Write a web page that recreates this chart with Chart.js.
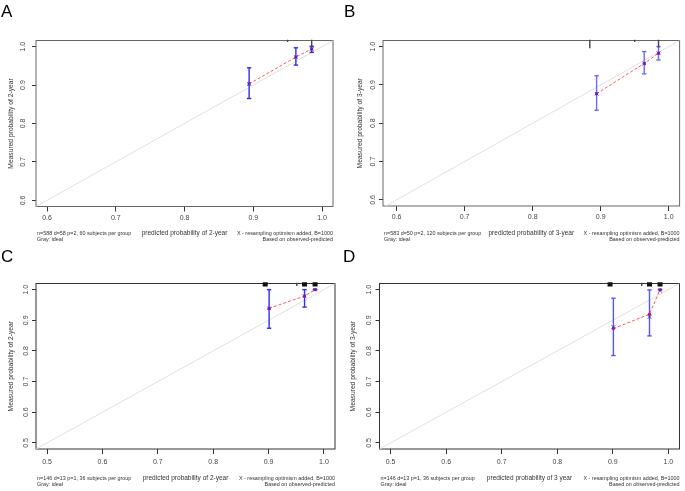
<!DOCTYPE html>
<html>
<head>
<meta charset="utf-8">
<script src="https://cdn.jsdelivr.net/npm/chart.js@4.4.0/dist/chart.umd.min.js"></script>
<style>
body { margin: 0; background: #fff; width: 685px; height: 491px; position: relative; overflow: hidden; font-family: "Liberation Sans", Arial, sans-serif; }
.wrap { position: absolute; }
.letter { position: absolute; font-size: 17px; line-height: 17px; color: #000; }
</style>
</head>
<body>
<div class="wrap" style="left:0;top:0;width:342px;height:245px"><canvas id="chartA"></canvas></div>
<div class="wrap" style="left:342px;top:0;width:343px;height:245px"><canvas id="chartB"></canvas></div>
<div class="wrap" style="left:0;top:245px;width:342px;height:246px"><canvas id="chartC"></canvas></div>
<div class="wrap" style="left:342px;top:245px;width:343px;height:246px"><canvas id="chartD"></canvas></div>
<div class="letter" style="left:1px;top:3px">A</div>
<div class="letter" style="left:344px;top:3px">B</div>
<div class="letter" style="left:1px;top:248px">C</div>
<div class="letter" style="left:343px;top:248px">D</div>
<script>
const FONT = '"Liberation Sans", Arial, sans-serif';

// tick labels
const ticksAB = [0.6, 0.7, 0.8, 0.9, 1.0];
const ticksCD = [0.5, 0.6, 0.7, 0.8, 0.9, 1.0];
const idealEnds = [0.4, 1.1];

// A - 2-year
const predA = [0.894, 0.962, 0.985];
const obsA = [0.903, 0.973, 0.994];
const corrA = [0.903, 0.973, 0.994];
const lowA = [0.865, 0.952, 0.985];
const upA = [0.945, 0.997, 1.001];
const rugXA = [0.950, 0.985];
const rugLenA = [0.004, 0.016];

// B - 3-year
const predB = [0.894, 0.964, 0.985];
const obsB = [0.877, 0.956, 0.983];
const corrB = [0.877, 0.956, 0.983];
const lowB = [0.834, 0.929, 0.965];
const upB = [0.924, 0.987, 1.000];
const rugXB = [0.884, 0.950, 0.985];
const rugLenB = [0.020, 0.004, 0.018];

// C - 2-year
const predC = [0.901, 0.965, 0.984];
const obsC = [0.939, 0.979, 1.000];
const corrC = [0.939, 0.979, 1.000];
const lowC = [0.874, 0.943, 1.000];
const upC = [1.000, 1.000, 1.000];
const rugXC = [0.951];
const rugLenC = [0.008];
const rugSqC = [0.894, 0.965, 0.984];

// D - 3-year
const predD = [0.901, 0.966, 0.985];
const obsD = [0.873, 0.920, 1.000];
const corrD = [0.878, 0.911, 0.997];
const lowD = [0.785, 0.849, 1.000];
const upD = [0.972, 0.999, 1.000];
const rugXD = [0.952];
const rugLenD = [0.008];
const rugSqD = [0.895, 0.966, 0.985];

const noteRight = ['X - resampling optimism added, B=1000', 'Based on observed-predicted'];

function segs(xs, y0, y1) {
    const out = [];
    xs.forEach((x, i) => {
        out.push({ x: x, y: y0[i] }, { x: x, y: y1[i] }, { x: x, y: null });
    });
    return out;
}

function pts(xs, ys) {
    return xs.map((x, i) => ({ x: x, y: ys[i] }));
}

const framePlugin = {
    id: 'frame',
    beforeDatasetsDraw(chart, args, opts) {
        const { ctx, chartArea: a } = chart;
        ctx.save();
        ctx.strokeStyle = opts.color || '#444';
        ctx.lineWidth = 1;
        ctx.strokeRect(a.left, a.top, a.right - a.left, a.bottom - a.top);
        ctx.restore();
    },
    afterDraw(chart, args, opts) {
        const { ctx, chartArea: a } = chart;
        ctx.save();
        ctx.fillStyle = '#333';
        ctx.font = '5.4px ' + FONT;
        ctx.textBaseline = 'middle';
        ctx.textAlign = 'left';
        (opts.left || []).forEach((t, i) => ctx.fillText(t, a.left + 1, 234 + i * 6));
        ctx.textAlign = 'right';
        (opts.right || []).forEach((t, i) => ctx.fillText(t, a.right, 234 + i * 6));
        ctx.restore();
    }
};

const panels = [
    {
        id: 'chartA', xRange: [0.584, 1.016], yRange: [0.584, 1.016], ticks: ticksAB,
        pred: predA, obs: obsA, corr: corrA, low: lowA, up: upA,
        rugX: rugXA, rugLen: rugLenA, sq: [],
        xTitle: 'predicted probability of 2-year', yTitle: 'Measured probability of 2-year',
        noteLeft: ['n=588 d=58 p=2, 60 subjects per group', 'Gray: ideal'],
        area: { left: 36, right: 9, top: 40.5, bottom: 38.5 }, yLabX: 23, yTitX: 10.7,
        xLabPad: 2, xTitOff: 12, barColor: '#2f2fe8', frameColor: '#666'
    },
    {
        id: 'chartB', xRange: [0.58, 1.016], yRange: [0.584, 1.016], ticks: ticksAB,
        pred: predB, obs: obsB, corr: corrB, low: lowB, up: upB,
        rugX: rugXB, rugLen: rugLenB, sq: [],
        xTitle: 'predicted probability of 3-year', yTitle: 'Measured probability of 3-year',
        noteLeft: ['n=583 d=50 p=2, 120 subjects per group', 'Gray: ideal'],
        area: { left: 41, right: 2, top: 40.5, bottom: 39 }, yLabX: 31.5, yTitX: 18,
        xLabPad: 2, xTitOff: 12, barColor: '#6b6bff', frameColor: '#666'
    },
    {
        id: 'chartC', xRange: [0.48, 1.02], yRange: [0.48, 1.02], ticks: ticksCD,
        pred: predC, obs: obsC, corr: corrC, low: lowC, up: upC,
        rugX: rugXC, rugLen: rugLenC, sq: rugSqC,
        xTitle: 'predicted probability of 2-year', yTitle: 'Measured probability of 2-year',
        noteLeft: ['n=146 d=13 p=1, 36 subjects per group', 'Gray: ideal'],
        area: { left: 36, right: 7, top: 38.5, bottom: 42 }, yLabX: 26.5, yTitX: 11.5,
        xLabPad: 4, xTitOff: 13, barColor: '#3030ee', frameColor: '#333'
    },
    {
        id: 'chartD', xRange: [0.48, 1.02], yRange: [0.48, 1.02], ticks: ticksCD,
        pred: predD, obs: obsD, corr: corrD, low: lowD, up: upD,
        rugX: rugXD, rugLen: rugLenD, sq: rugSqD,
        xTitle: 'predicted probability of 3 year', yTitle: 'Measured probability of 3-year',
        noteLeft: ['n=146 d=13 p=1, 36 subjects per group', 'Gray: ideal'],
        area: { left: 37.5, right: 5.5, top: 38.5, bottom: 42 }, yLabX: 27.5, yTitX: 11.5,
        xLabPad: 4, xTitOff: 13, barColor: '#5555ff', frameColor: '#333'
    }
];

function drawPanel(p) {
    const top = p.yRange[1];
    const span = p.yRange[1] - p.yRange[0];
    const datasets = [
        {
            data: pts(idealEnds, idealEnds), showLine: true,
            borderColor: '#e0e0e0', borderWidth: 1, pointRadius: 0, order: 5
        },
        {
            data: segs(p.pred, p.low, p.up), showLine: true, spanGaps: false,
            borderColor: p.barColor, borderWidth: 1.4,
            pointStyle: 'line', pointRadius: 2.2, pointBorderWidth: 1.4,
            pointBorderColor: p.barColor, clip: false, order: 3
        },
        {
            data: pts(p.pred, p.obs), showLine: true,
            borderColor: '#ff5a5a', borderWidth: 1, borderDash: [3, 2],
            pointRadius: 1.6, pointBackgroundColor: '#d8103c', pointBorderWidth: 0, order: 2
        },
        {
            data: pts(p.pred, p.corr), showLine: false,
            pointStyle: 'crossRot', pointRadius: 2.4, pointBorderColor: '#2a2aff',
            pointBorderWidth: 1, order: 1
        },
        {
            data: segs(p.rugX, p.rugX.map(() => top + span * 0.004), p.rugLen.map(l => top - l)),
            showLine: true, spanGaps: false, borderColor: '#444', borderWidth: 1.4,
            pointRadius: 0, clip: false, order: 0
        },
        {
            data: segs(p.sq, p.sq.map(() => top + span * 0.007), p.sq.map(() => top - span * 0.018)),
            showLine: true, spanGaps: false, borderColor: '#111', borderWidth: 5,
            pointRadius: 0, clip: false, order: 0
        }
    ];

    new Chart(document.getElementById(p.id), {
        type: 'scatter',
        data: { datasets: datasets },
        options: {
            responsive: true,
            maintainAspectRatio: false,
            animation: false,
            events: [],
            layout: { padding: { left: 0, top: p.area.top, right: p.area.right, bottom: 0 } },
            plugins: {
                legend: { display: false },
                tooltip: { enabled: false },
                frame: { color: p.frameColor, left: p.noteLeft, right: noteRight }
            },
            scales: {
                x: {
                    type: 'linear', min: p.xRange[0], max: p.xRange[1],
                    afterBuildTicks: s => { s.ticks = p.ticks.map(v => ({ value: v })); },
                    afterFit: s => { s.height = p.area.bottom; },
                    grid: { drawOnChartArea: false, tickLength: 5, color: '#333' },
                    border: { display: false },
                    ticks: {
                        font: { family: FONT, size: 7 }, color: '#444', padding: p.xLabPad,
                        maxRotation: 0, callback: v => v.toFixed(1)
                    },
                    title: {
                        display: true, text: p.xTitle, color: '#333',
                        font: { family: FONT, size: 6.5 },
                        padding: { top: 0, bottom: p.xTitOff - 3.9 }
                    }
                },
                y: {
                    type: 'linear', min: p.yRange[0], max: p.yRange[1],
                    afterBuildTicks: s => { s.ticks = p.ticks.map(v => ({ value: v })); },
                    afterFit: s => { s.width = p.area.left; },
                    grid: { drawOnChartArea: false, tickLength: 4, color: '#333' },
                    border: { display: false },
                    ticks: {
                        font: { family: FONT, size: 7 }, color: '#444',
                        minRotation: 90, maxRotation: 90, crossAlign: 'center',
                        padding: Math.max(0, p.area.left - 4 - 4.9 - p.yLabX),
                        callback: v => v.toFixed(1)
                    },
                    title: {
                        display: true, text: p.yTitle, color: '#333',
                        font: { family: FONT, size: 6.7 },
                        padding: { top: p.yTitX - 4, bottom: 0 }
                    }
                }
            }
        },
        plugins: [framePlugin]
    });
}

panels.forEach(drawPanel);
</script>
</body>
</html>
